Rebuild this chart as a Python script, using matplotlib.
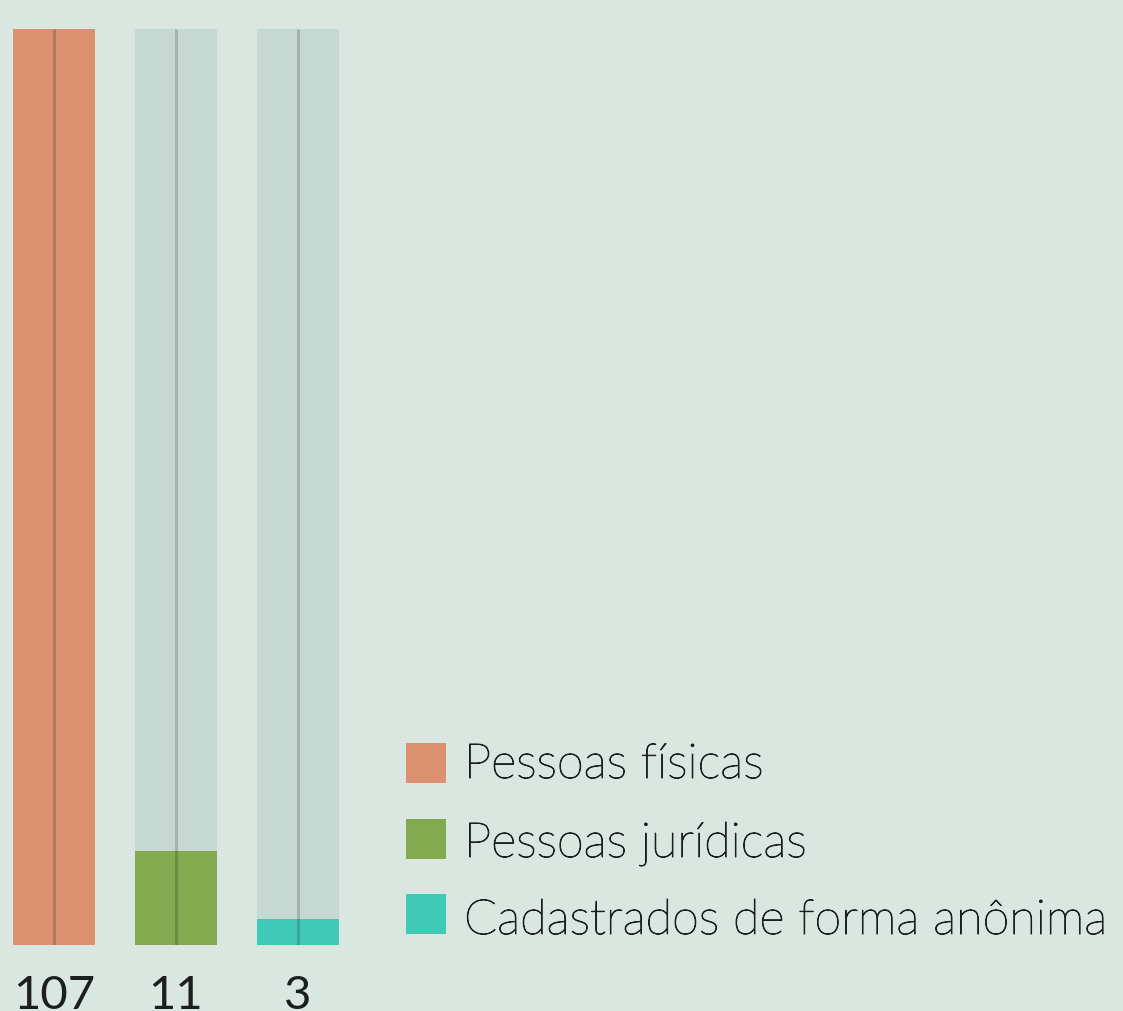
import matplotlib
matplotlib.use("Agg")
import matplotlib.pyplot as plt
from matplotlib.patches import Rectangle
import matplotlib.patheffects as pe

categories = ["Pessoas físicas", "Pessoas jurídicas", "Cadastrados de forma anônima"]
values = [107, 11, 3]
value_labels = ["107", "11", "3"]
colors = ["#dc9171", "#83aa4f", "#41c9b7"]

BG = "#dae7e0"
TRACK = "#c6d8d2"
W, H = 1123, 1011

fig = plt.figure(figsize=(W / 100, H / 100), dpi=100, facecolor=BG)

# axes placed in pixel space: bars span x 13..339, y 29..945
left, right, top, bottom = 13, 339, 29, 945
ax = fig.add_axes([left / W, (H - bottom) / H, (right - left) / W, (bottom - top) / H])
ax.set_facecolor(BG)
ax.patch.set_alpha(0)
n = len(values)
bw = 82 / 122
ax.set_xlim(-bw / 2, n - 1 + bw / 2)
vmax = max(values)
ax.set_ylim(0, vmax)
ax.axis("off")

x = list(range(n))
ax.bar(x, [vmax] * n, width=bw, color=TRACK, zorder=1)
ax.bar(x, values, width=bw, color=colors, zorder=2)
ax.vlines(x, 0, vmax, colors="black", alpha=0.17, linewidth=2.2, zorder=3)

for xi, lab in zip(x, value_labels):
    ax.annotate(lab, (xi, 0), xytext=(0, -30), textcoords="offset pixels",
                ha="center", va="top", fontsize=34, color="#1b1f1e",
                family=["Lato", "DejaVu Sans"], annotation_clip=False)

# legend
sq = 40
rows_top = [743, 819, 894]
baselines = [778, 857, 934]
for c, lab, t, b in zip(colors, categories, rows_top, baselines):
    fig.patches.append(Rectangle((406 / W, (H - t - sq) / H), sq / W, sq / H,
                                 transform=fig.transFigure, facecolor=c, edgecolor="none"))
    fig.text(464 / W, (H - b) / H, lab, ha="left", va="baseline", fontsize=35,
             color="#1b1f1e", fontweight="light", family=["Lato", "DejaVu Sans"],
             path_effects=[pe.withStroke(linewidth=0.7, foreground="#1b1f1e")])

fig.savefig("out.png", dpi=100, facecolor=BG)
